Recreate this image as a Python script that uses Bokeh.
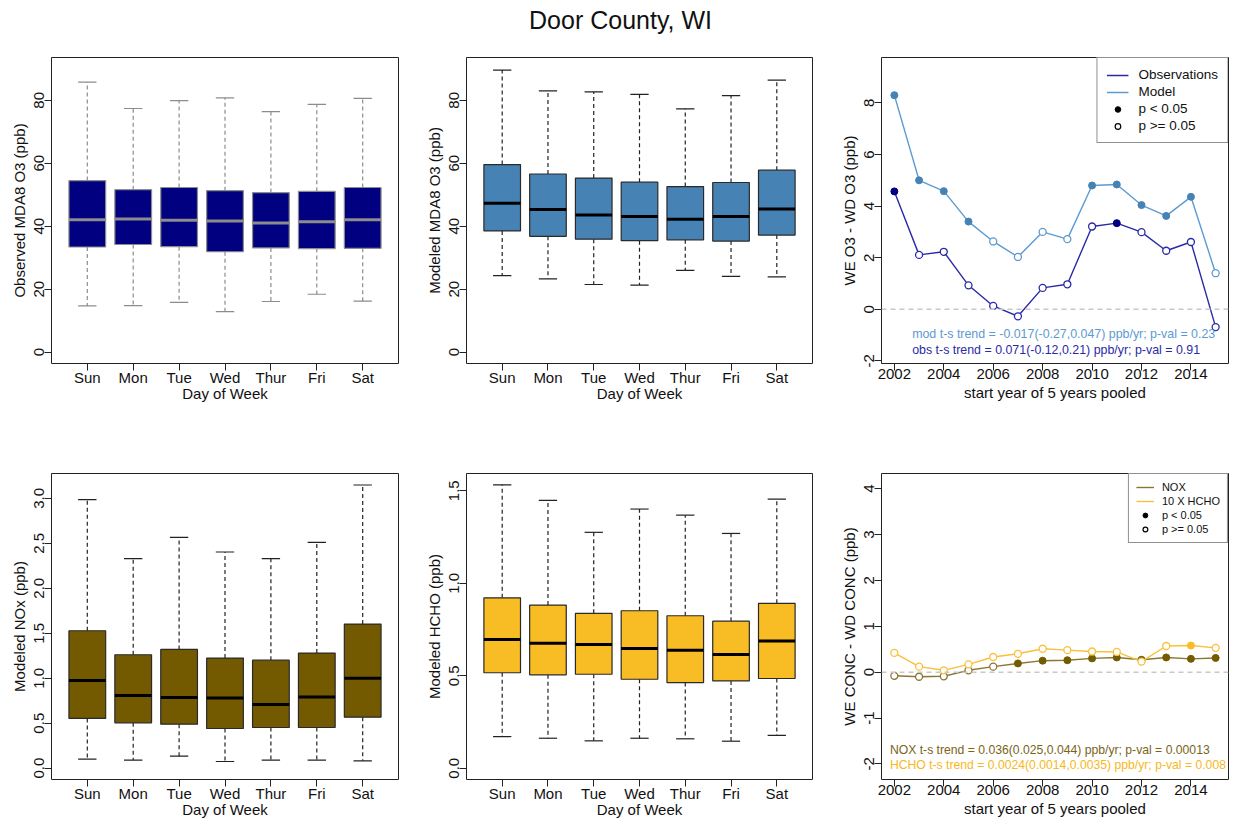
from bokeh.plotting import figure
from bokeh.models import (ColumnDataSource, Range1d, FixedTicker, Span, Legend,
                          LegendItem, PrintfTickFormatter)
from bokeh.layouts import column, row
from bokeh.core.properties import value
from bokeh.embed import file_html
from bokeh.resources import INLINE

FONT = "Liberation Sans"

# ---------------- data ----------------
days = ["Sun", "Mon", "Tue", "Wed", "Thur", "Fri", "Sat"]

obs_o3_min = [14.7, 14.8, 15.8, 12.9, 16.1, 18.4, 16.2]
obs_o3_q1 = [33.4, 34.2, 33.5, 31.9, 33.1, 32.9, 33.0]
obs_o3_med = [42.1, 42.3, 41.9, 41.7, 41.0, 41.4, 42.1]
obs_o3_q3 = [54.5, 51.6, 52.3, 51.3, 50.7, 51.1, 52.3]
obs_o3_max = [85.8, 77.4, 79.9, 80.8, 76.4, 78.7, 80.6]

mod_o3_min = [24.3, 23.3, 21.5, 21.3, 26.0, 24.1, 23.9]
mod_o3_q1 = [38.5, 36.8, 35.9, 35.4, 35.7, 35.3, 37.2]
mod_o3_med = [47.3, 45.3, 43.6, 43.1, 42.2, 43.1, 45.5]
mod_o3_q3 = [59.6, 56.6, 55.3, 54.0, 52.6, 53.9, 57.8]
mod_o3_max = [89.6, 83.0, 82.7, 81.9, 77.3, 81.5, 86.4]

nox_min = [0.100, 0.089, 0.133, 0.074, 0.089, 0.089, 0.082]
nox_q1 = [0.553, 0.504, 0.489, 0.441, 0.452, 0.452, 0.567]
nox_med = [0.975, 0.808, 0.786, 0.779, 0.708, 0.790, 1.001]
nox_q3 = [1.528, 1.261, 1.320, 1.224, 1.201, 1.279, 1.602]
nox_max = [2.985, 2.329, 2.566, 2.403, 2.329, 2.510, 3.148]

hcho_min = [0.171, 0.162, 0.148, 0.162, 0.159, 0.146, 0.177]
hcho_q1 = [0.516, 0.505, 0.508, 0.481, 0.463, 0.472, 0.485]
hcho_med = [0.696, 0.676, 0.669, 0.647, 0.638, 0.615, 0.687]
hcho_q3 = [0.921, 0.882, 0.837, 0.851, 0.824, 0.795, 0.891]
hcho_max = [1.532, 1.448, 1.275, 1.401, 1.368, 1.269, 1.455]

years = [2002, 2003, 2004, 2005, 2006, 2007, 2008, 2009, 2010, 2011, 2012, 2013, 2014, 2015]
mod_diff = [8.30, 5.00, 4.58, 3.40, 2.63, 2.03, 3.00, 2.72, 4.80, 4.84, 4.04, 3.62, 4.36, 1.40]
mod_sig = [1, 1, 1, 1, 0, 0, 0, 0, 1, 1, 1, 1, 1, 0]
obs_diff = [4.57, 2.11, 2.23, 0.93, 0.13, -0.27, 0.83, 0.97, 3.21, 3.34, 2.99, 2.27, 2.61, -0.69]
obs_sig = [1, 0, 0, 0, 0, 0, 0, 0, 0, 1, 0, 0, 0, 0]
nox_diff = [-0.08, -0.10, -0.09, 0.04, 0.12, 0.19, 0.25, 0.26, 0.30, 0.32, 0.27, 0.32, 0.29, 0.31]
nox_sig = [0, 0, 0, 0, 0, 1, 1, 1, 1, 1, 1, 1, 1, 1]
hcho10_diff = [0.42, 0.12, 0.04, 0.17, 0.33, 0.40, 0.51, 0.48, 0.45, 0.44, 0.23, 0.57, 0.58, 0.53]
hcho_sig = [0, 0, 0, 0, 0, 0, 0, 0, 0, 0, 0, 0, 1, 0]

o3_trend_texts = ["mod t-s trend = -0.017(-0.27,0.047) ppb/yr; p-val = 0.23",
                  "obs t-s trend = 0.071(-0.12,0.21) ppb/yr; p-val = 0.91"]
conc_trend_texts = ["NOX t-s trend = 0.036(0.025,0.044) ppb/yr; p-val = 0.00013",
                    "HCHO t-s trend = 0.0024(0.0014,0.0035) ppb/yr; p-val = 0.008"]

# ---------------- colours ----------------
OBS_COL = "#2a2aa6"
OBS_FILL = "#00007f"
MOD_COL = "#5d9ad0"
MOD_FILL = "#4682b4"
NOX_COL = "#8a7632"
NOX_FILL = "#735c00"
HCHO_COL = "#f9c03a"
HCHO_FILL = "#f8bc24"


def style_axes(p, xlabel, ylabel, xticks, yticks, yfmt, xoverrides=None, xfmt=None,
               xlab_standoff=-4):
    p.xaxis.ticker = FixedTicker(ticks=xticks)
    if xoverrides:
        p.xaxis.major_label_overrides = xoverrides
    if xfmt:
        p.xaxis.formatter = PrintfTickFormatter(format=xfmt)
    p.yaxis.ticker = FixedTicker(ticks=yticks)
    p.yaxis.formatter = PrintfTickFormatter(format=yfmt)
    p.yaxis.major_label_orientation = "vertical"
    p.xaxis.axis_label = xlabel
    p.yaxis.axis_label = ylabel
    for ax in p.axis:
        ax.axis_line_color = None
        ax.major_tick_out = 7
        ax.major_tick_in = 0
        ax.major_tick_line_color = "#222222"
        ax.minor_tick_line_color = None
        ax.major_label_text_font = FONT
        ax.major_label_text_font_size = "15px"
        ax.major_label_text_color = "#111111"
        ax.axis_label_text_font = FONT
        ax.axis_label_text_font_size = "15px"
        ax.axis_label_text_font_style = "normal"
        ax.axis_label_text_color = "#111111"
    p.xaxis.major_label_standoff = -2
    p.xaxis.axis_label_standoff = xlab_standoff
    p.yaxis.major_label_standoff = 0
    p.yaxis.axis_label_standoff = 4
    p.grid.visible = False
    p.outline_line_color = "#222222"
    p.outline_line_width = 1


def make_fig(width, height, xr, yr, bl, br, bt, bb):
    p = figure(width=width, height=height, x_range=Range1d(*xr), y_range=Range1d(*yr),
               output_backend="svg", toolbar_location=None,
               min_border_left=bl, min_border_right=br, min_border_top=bt, min_border_bottom=bb)
    return p


def boxplot(p, mins, q1, med, q3, maxs, fill, border, med_col, wcol):
    xs = [i + 1 for i in range(len(days))]
    src = ColumnDataSource(dict(x=xs, left=[x - 0.4 for x in xs], right=[x + 0.4 for x in xs],
                                cl=[x - 0.2 for x in xs], cr=[x + 0.2 for x in xs],
                                mn=mins, q1=q1, med=med, q3=q3, mx=maxs))
    p.segment(x0="x", y0="q3", x1="x", y1="mx", source=src, line_color=wcol, line_width=1.2,
              line_dash="4 3")
    p.segment(x0="x", y0="q1", x1="x", y1="mn", source=src, line_color=wcol, line_width=1.2,
              line_dash="4 3")
    p.segment(x0="cl", y0="mx", x1="cr", y1="mx", source=src, line_color=wcol, line_width=1.2)
    p.segment(x0="cl", y0="mn", x1="cr", y1="mn", source=src, line_color=wcol, line_width=1.2)
    p.quad(left="left", right="right", bottom="q1", top="q3", source=src, fill_color=fill,
           line_color=border, line_width=1.2)
    p.segment(x0="left", y0="med", x1="right", y1="med", source=src, line_color=med_col,
              line_width=3, line_cap="butt")


def series(p, ys, sig, line_col, fill_col):
    r = p.line(years, ys, line_color=line_col, line_width=1.4)
    ox = [y for y, s in zip(years, sig) if not s]
    oy = [v for v, s in zip(ys, sig) if not s]
    fx = [y for y, s in zip(years, sig) if s]
    fy = [v for v, s in zip(ys, sig) if s]
    p.scatter(ox, oy, marker="circle", size=7, fill_color="white", line_color=line_col,
              line_width=1.3)
    p.scatter(fx, fy, marker="circle", size=7, fill_color=fill_col, line_color=fill_col)
    return r


def add_legend(p, line_items, ref_y, font_size, glyph_w, glyph_h, pad, standoff, spacing):
    items = [LegendItem(label=lab, renderers=[r]) for lab, r in line_items]
    # legend-only key markers (hidden in the plot itself)
    rf = p.scatter(years[:1], ref_y[:1], marker="circle", fill_color="black", line_color="black")
    ro = p.scatter(years[:1], ref_y[:1], marker="circle", fill_color="white", line_color="black",
                   line_width=1.2)
    rf.visible = False
    ro.visible = False
    items.append(LegendItem(label="p < 0.05", renderers=[rf]))
    items.append(LegendItem(label="p >= 0.05", renderers=[ro]))
    leg = Legend(items=items, location="top_right", margin=0, padding=pad, spacing=spacing,
                 glyph_width=glyph_w, glyph_height=glyph_h, label_height=glyph_h,
                 label_standoff=standoff, label_text_font=FONT, label_text_font_size=font_size,
                 label_text_color="#111111", border_line_color="#222222", border_line_width=1,
                 background_fill_alpha=1.0, inactive_fill_alpha=0.0, click_policy="none")
    p.add_layout(leg)


day_overrides = {i + 1: d for i, d in enumerate(days)}
box_xr = (0.22, 7.78)
yr_xr = (2001.48, 2015.52)
year_ticks = [2002, 2004, 2006, 2008, 2010, 2012, 2014]

# ---------------- title ----------------
t = figure(width=1233, height=40, x_range=Range1d(0, 1233), y_range=Range1d(0, 40),
           output_backend="svg", toolbar_location=None, min_border=0,
           x_axis_location=None, y_axis_location=None)
t.outline_line_color = None
t.grid.visible = False
t.text(x=[620], y=[21], text=["Door County, WI"], text_font=value(FONT),
       text_font_size="25px", text_align="center", text_baseline="middle",
       text_color="#111111")

# ---------------- top row ----------------
p1 = make_fig(413, 403, box_xr, (-3.6, 93.6), 51, 15, 17, 80)
boxplot(p1, obs_o3_min, obs_o3_q1, obs_o3_med, obs_o3_q3, obs_o3_max,
        "#000080", "#8c8c8c", "#8c8c8c", "#8c8c8c")
style_axes(p1, "Day of Week", "Observed MDA8 O3 (ppb)", list(range(1, 8)),
           [0, 20, 40, 60, 80], "%d", xoverrides=day_overrides)

p2 = make_fig(413, 403, box_xr, (-3.6, 93.6), 53, 14, 17, 80)
boxplot(p2, mod_o3_min, mod_o3_q1, mod_o3_med, mod_o3_q3, mod_o3_max,
        "#4682b4", "#2a2a2a", "#000000", "#222222")
style_axes(p2, "Day of Week", "Modeled MDA8 O3 (ppb)", list(range(1, 8)),
           [0, 20, 40, 60, 80], "%d", xoverrides=day_overrides)

p3 = make_fig(407, 403, yr_xr, (-2.10, 9.76), 55, 5, 17, 80)
p3.add_layout(Span(location=0, dimension="width", line_color="#c8c8c8", line_width=1.5,
                   line_dash="5 4"))
r_mod = series(p3, mod_diff, mod_sig, MOD_COL, MOD_FILL)
r_obs = series(p3, obs_diff, obs_sig, OBS_COL, OBS_FILL)
src3 = ColumnDataSource(dict(x=[2002.72, 2002.72], y=[-0.95, -1.57], t=o3_trend_texts,
                             c=[MOD_COL, OBS_COL]))
p3.text(x="x", y="y", text="t", text_color="c", source=src3, text_font=value(FONT),
        text_font_size="12.4px", text_baseline="middle", text_align="left")
style_axes(p3, "start year of 5 years pooled", "WE O3 - WD O3 (ppb)", year_ticks,
           [-2, 0, 2, 4, 6, 8], "%d", xfmt="%d", xlab_standoff=2)
add_legend(p3, [("Observations", r_obs), ("Model", r_mod)], obs_diff,
           "13.5px", 22, 14, 9, 10, 2)

# ---------------- bottom row ----------------
p4 = make_fig(413, 377, box_xr, (-0.126, 3.276), 51, 15, 30, 41)
boxplot(p4, nox_min, nox_q1, nox_med, nox_q3, nox_max,
        "#735a00", "#2a2a2a", "#000000", "#222222")
style_axes(p4, "Day of Week", "Modeled NOx (ppb)", list(range(1, 8)),
           [0, 0.5, 1.0, 1.5, 2.0, 2.5, 3.0], "%.1f", xoverrides=day_overrides)

p5 = make_fig(413, 377, box_xr, (-0.061, 1.593), 53, 14, 30, 41)
boxplot(p5, hcho_min, hcho_q1, hcho_med, hcho_q3, hcho_max,
        "#f8bc24", "#2a2a2a", "#000000", "#222222")
style_axes(p5, "Day of Week", "Modeled HCHO (ppb)", list(range(1, 8)),
           [0, 0.5, 1.0, 1.5], "%.1f", xoverrides=day_overrides)

p6 = make_fig(407, 377, yr_xr, (-2.34, 4.33), 55, 5, 30, 41)
p6.add_layout(Span(location=0, dimension="width", line_color="#c8c8c8", line_width=1.5,
                   line_dash="5 4"))
r_nox = series(p6, nox_diff, nox_sig, NOX_COL, NOX_FILL)
r_hcho = series(p6, hcho10_diff, hcho_sig, HCHO_COL, HCHO_FILL)
src6 = ColumnDataSource(dict(x=[2001.82, 2001.82], y=[-1.70, -2.03], t=conc_trend_texts,
                             c=["#7a6418", "#f8b820"]))
p6.text(x="x", y="y", text="t", text_color="c", source=src6, text_font=value(FONT),
        text_font_size="12.2px", text_baseline="middle", text_align="left")
style_axes(p6, "start year of 5 years pooled", "WE CONC - WD CONC (ppb)", year_ticks,
           [-2, -1, 0, 1, 2, 3, 4], "%d", xfmt="%d", xlab_standoff=2)
add_legend(p6, [("NOX", r_nox), ("10 X HCHO", r_hcho)], nox_diff,
           "11px", 18, 12, 7, 8, 2)

layout = column(t, row(p1, p2, p3), row(p4, p5, p6))
open("out.html", "w").write(file_html(layout, INLINE))
